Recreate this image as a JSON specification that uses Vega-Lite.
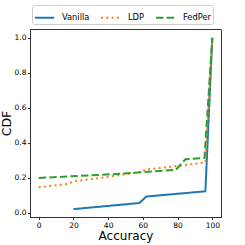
{
  "$schema": "https://vega.github.io/schema/vega-lite/v6.json",
  "autosize": "none",
  "width": 191,
  "height": 188,
  "padding": {"left": 30, "top": 29, "right": 24, "bottom": 28},
  "config": {
    "font": "DejaVu Sans",
    "view": {"stroke": "#333333", "strokeWidth": 1},
    "axis": {"grid": false, "domainColor": "#333333", "tickColor": "#333333", "labelFont": "DejaVu Sans", "titleFont": "DejaVu Sans", "labelFontSize": 7.5, "titleFontSize": 12.5, "titleFontWeight": "normal", "labelColor": "#000000", "titleColor": "#000000", "tickSize": 2.5, "labelPadding": 1.5}
  },
  "data": {"values": [
    {"series": "Vanilla", "o": 1, "x": 20, "y": 0.02},
    {"series": "Vanilla", "o": 2, "x": 58, "y": 0.055},
    {"series": "Vanilla", "o": 3, "x": 62, "y": 0.092},
    {"series": "Vanilla", "o": 4, "x": 96, "y": 0.122},
    {"series": "Vanilla", "o": 5, "x": 100, "y": 1.0},
    {"series": "LDP", "o": 1, "x": 0, "y": 0.145},
    {"series": "LDP", "o": 2, "x": 16.5, "y": 0.164},
    {"series": "LDP", "o": 3, "x": 20.5, "y": 0.179},
    {"series": "LDP", "o": 4, "x": 40, "y": 0.205},
    {"series": "LDP", "o": 5, "x": 58.5, "y": 0.232},
    {"series": "LDP", "o": 6, "x": 61.5, "y": 0.246},
    {"series": "LDP", "o": 7, "x": 81, "y": 0.268},
    {"series": "LDP", "o": 8, "x": 96, "y": 0.287},
    {"series": "LDP", "o": 9, "x": 100, "y": 1.0},
    {"series": "FedPer", "o": 1, "x": 0, "y": 0.198},
    {"series": "FedPer", "o": 2, "x": 45, "y": 0.221},
    {"series": "FedPer", "o": 3, "x": 79, "y": 0.245},
    {"series": "FedPer", "o": 4, "x": 84.5, "y": 0.305},
    {"series": "FedPer", "o": 5, "x": 95.5, "y": 0.313},
    {"series": "FedPer", "o": 6, "x": 100, "y": 1.0}
  ]},
  "mark": {"type": "line", "strokeWidth": 2},
  "encoding": {
    "x": {"field": "x", "type": "quantitative", "title": "Accuracy", "scale": {"domain": [-5, 105], "nice": false, "zero": false}, "axis": {"values": [0, 20, 40, 60, 80, 100], "titlePadding": 2, "titleFontSize": 12}},
    "y": {"field": "y", "type": "quantitative", "title": "CDF", "scale": {"domain": [-0.025, 1.05], "nice": false, "zero": false}, "axis": {"values": [0, 0.2, 0.4, 0.6, 0.8, 1.0], "format": ".1f", "titlePadding": 1}},
    "order": {"field": "o", "type": "quantitative"},
    "color": {"field": "series", "type": "nominal", "sort": ["Vanilla", "LDP", "FedPer"], "scale": {"domain": ["Vanilla", "LDP", "FedPer"], "range": ["#1f77b4", "#ff7f0e", "#2ca02c"]},
      "legend": {"title": null, "orient": "none", "legendX": 2, "legendY": -24, "direction": "horizontal", "columns": 3, "symbolType": "stroke", "symbolSize": 361, "symbolStrokeWidth": 2, "labelFontSize": 8.3, "labelFont": "DejaVu Sans", "labelColor": "#000000", "columnPadding": 7, "labelOffset": 7, "strokeColor": "#cccccc", "padding": 2, "cornerRadius": 2, "fillColor": "white"}},
    "strokeDash": {"field": "series", "type": "nominal", "sort": ["Vanilla", "LDP", "FedPer"], "scale": {"domain": ["Vanilla", "LDP", "FedPer"], "range": [[1, 0], [2, 3.3], [7.4, 3.2]]},
      "legend": {"title": null, "orient": "none", "legendX": 2, "legendY": -24, "direction": "horizontal", "columns": 3, "symbolType": "stroke", "symbolSize": 361, "symbolStrokeWidth": 2, "labelFontSize": 8.3, "labelFont": "DejaVu Sans", "labelColor": "#000000", "columnPadding": 7, "labelOffset": 7, "strokeColor": "#cccccc", "padding": 2, "cornerRadius": 2, "fillColor": "white"}}
  }
}
